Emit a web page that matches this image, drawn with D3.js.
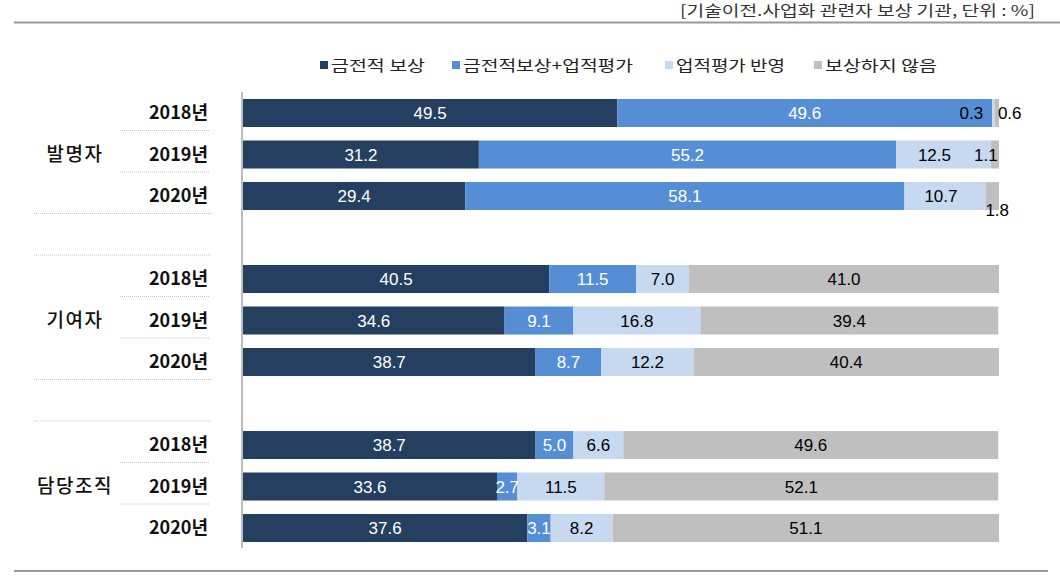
<!DOCTYPE html>
<html>
<head>
<meta charset="utf-8">
<script src="https://cdn.jsdelivr.net/npm/d3@7"></script>
<style>
  html, body { margin: 0; padding: 0; background: #fff; }
  svg { display: block; }
</style>
</head>
<body>
<svg id="chart" width="1060" height="587"></svg>
<script>
// ---- data ----
const groups = ["발명자", "기여자", "담당조직"];
const years = ["2018년", "2019년", "2020년"];
const seriesNames = ["금전적 보상", "금전적보상+업적평가", "업적평가 반영", "보상하지 않음"];
const monetary      = [49.5, 31.2, 29.4, 40.5, 34.6, 38.7, 38.7, 33.6, 37.6];
const monetaryPerf  = [49.6, 55.2, 58.1, 11.5,  9.1,  8.7,  5.0,  2.7,  3.1];
const perfOnly      = [ 0.3, 12.5, 10.7,  7.0, 16.8, 12.2,  6.6, 11.5,  8.2];
const noReward      = [ 0.6,  1.1,  1.8, 41.0, 39.4, 40.4, 49.6, 52.1, 51.1];
const titleText = "[기술이전.사업화 관련자 보상 기관, 단위 : %]";

// ---- styles ----
const colors = ["#243F60", "#558ED5", "#C6D9F1", "#BFBFBF"];
const labelColors = ["#ffffff", "#ffffff", "#000000", "#000000"];
// manual label nudges (row-series) : [dx, dy]
const labelNudge = { "0-2": [-22, 0], "0-3": [13, 0], "1-2": [-9, 0], "1-3": [-9, 0], "2-2": [-4, 0], "2-3": [5, 14] };

const seriesData = [monetary, monetaryPerf, perfOnly, noReward];

// rows (group-year combinations)
const rows = [];
groups.forEach((g, gi) => years.forEach((yr, yi) => {
  const i = gi * 3 + yi;
  rows.push({ key: g + "|" + yr, group: g, year: yr, idx: i, values: seriesData.map(s => s[i]) });
}));

// slots incl. gaps between groups
const slots = [];
groups.forEach((g, gi) => {
  years.forEach(yr => slots.push(g + "|" + yr));
  if (gi < groups.length - 1) slots.push("gap" + gi);
});

const svg = d3.select("#chart");
const x = d3.scaleLinear().domain([0, 100]).range([243, 999]);
const y = d3.scaleBand().domain(slots).range([92.25, 548.75]).paddingInner(0.325).paddingOuter(0.1625);
const bw = y.bandwidth();

// title + rules
svg.append("text")
  .attr("x", 1035).attr("y", 15.5)
  .attr("text-anchor", "end")
  .attr("font-family", "'Noto Sans CJK KR', sans-serif")
  .attr("font-size", 15)
  .attr("fill", "#333")
  .attr("textLength", 355).attr("lengthAdjust", "spacingAndGlyphs")
  .text(titleText);
svg.append("line").attr("x1", 14).attr("x2", 1060).attr("y1", 22.5).attr("y2", 22.5)
  .attr("stroke", "#9a9a9a").attr("stroke-width", 2);
svg.append("line").attr("x1", 14).attr("x2", 1048).attr("y1", 571).attr("y2", 571)
  .attr("stroke", "#9a9a9a").attr("stroke-width", 2);

// legend
const legendX = [320, 452, 665, 814];
const legendW = [94, 170, 109, 112];
const leg = svg.append("g").selectAll("g").data(seriesNames).join("g")
  .attr("transform", (d, i) => `translate(${legendX[i]},65)`);
leg.append("rect").attr("x", 0).attr("y", -4).attr("width", 8).attr("height", 8)
  .attr("fill", (d, i) => colors[i]);
leg.append("text").attr("x", 11).attr("y", 5.5)
  .attr("font-family", "'Noto Sans CJK KR', sans-serif").attr("font-size", 15)
  .attr("fill", "#222")
  .attr("textLength", (d, i) => legendW[i]).attr("lengthAdjust", "spacingAndGlyphs")
  .text(d => d);

// bars
const stack = d3.stack().keys([0, 1, 2, 3]).value((r, k) => r.values[k]);
const stacked = stack(rows);
const layers = svg.append("g").selectAll("g").data(stacked).join("g")
  .attr("fill", (d, i) => colors[i]);
layers.selectAll("rect").data(d => d).join("rect")
  .attr("x", d => x(d[0]))
  .attr("y", d => y(d.data.key))
  .attr("width", d => x(d[1]) - x(d[0]))
  .attr("height", bw);

// value labels
stacked.forEach((layer, si) => {
  svg.append("g").selectAll("text").data(layer).join("text")
    .attr("x", d => {
      const n = labelNudge[d.data.idx + "-" + si];
      return (x(d[0]) + x(d[1])) / 2 + (n ? n[0] : 0);
    })
    .attr("y", d => {
      const n = labelNudge[d.data.idx + "-" + si];
      return y(d.data.key) + bw / 2 + (n ? n[1] : 0);
    })
    .attr("dy", "0.36em")
    .attr("text-anchor", "middle")
    .attr("font-family", "'Liberation Sans', Arial, sans-serif")
    .attr("font-size", 17)
    .attr("fill", labelColors[si])
    .text(d => d.data.values[si].toFixed(1));
});

// axis line
svg.append("line").attr("x1", 242).attr("x2", 242).attr("y1", 92).attr("y2", 548)
  .attr("stroke", "#a6a6a6").attr("stroke-width", 1.5);

// year labels
svg.append("g").selectAll("text").data(rows).join("text")
  .attr("x", 208).attr("y", d => y(d.key) + bw / 2)
  .attr("dy", "0.36em").attr("text-anchor", "end")
  .attr("font-family", "'Noto Sans CJK KR', sans-serif")
  .attr("font-size", 18).attr("font-weight", 700).attr("fill", "#111")
  .text(d => d.year);

// group labels
svg.append("g").selectAll("text").data(groups).join("text")
  .attr("x", 75).attr("y", g => y(g + "|" + years[1]) + bw / 2)
  .attr("dy", "0.36em").attr("text-anchor", "middle")
  .attr("font-family", "'Noto Sans CJK KR', sans-serif")
  .attr("font-size", 19).attr("font-weight", 500).attr("fill", "#111")
  .attr("letter-spacing", 1.5)
  .text(g => g);

// dotted separators
const seps = slots.slice(0, -1).map((s, i) => {
  const next = slots[i + 1];
  const long = s.startsWith("gap") || next.startsWith("gap");
  return { slot: s, long };
});
svg.append("g").selectAll("line").data(seps).join("line")
  .attr("x1", d => d.long ? 34 : 120).attr("x2", d => d.long ? 211 : 209)
  .attr("y1", d => y(d.slot) + bw + 3.5).attr("y2", d => y(d.slot) + bw + 3.5)
  .attr("stroke", "#c4c4c4").attr("stroke-width", 1)
  .attr("stroke-dasharray", "1,1");
</script>
</body>
</html>
